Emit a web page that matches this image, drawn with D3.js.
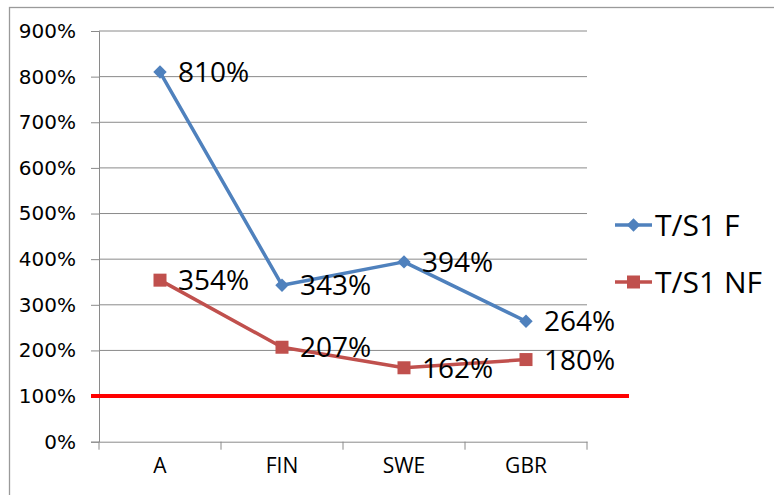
<!DOCTYPE html>
<html><head><meta charset="utf-8">
<script src="https://cdn.jsdelivr.net/npm/d3@7"></script>
<style>
html,body{margin:0;padding:0;background:#fff;}
svg{display:block;font-family:"Open Sans",sans-serif;}
</style></head>
<body>
<script>
const categories = ["A", "FIN", "SWE", "GBR"];
const seriesNames = ["T/S1 F", "T/S1 NF"];
const seriesF = [810, 343, 394, 264];
const seriesNF = [354, 207, 162, 180];
const yTicks = [0, 100, 200, 300, 400, 500, 600, 700, 800, 900];
const thresholdValue = 100;
const colors = ["#4F81BD", "#C0504D"];

const W = 774, H = 495;
const svg = d3.select("body").append("svg").attr("width", W).attr("height", H);

// outer border
svg.append("rect").attr("x", 9.5).attr("y", 7.5).attr("width", 800).attr("height", 600)
  .attr("fill", "none").attr("stroke", "#9a9a9a").attr("stroke-width", 1.3);

const plot = {left: 99, right: 587, top: 31, bottom: 441.7};
const x = d3.scaleBand().domain(categories).range([plot.left, plot.right]);
const y = d3.scaleLinear().domain([0, 900]).range([plot.bottom, plot.top]);

// gridlines
svg.append("g").selectAll("line").data(yTicks.filter(d => d > 0)).join("line")
  .attr("x1", plot.left).attr("x2", plot.right)
  .attr("y1", d => y(d)).attr("y2", d => y(d))
  .attr("stroke", "#8a8a8a").attr("stroke-width", 1);

// y axis
const yAxis = svg.append("g").attr("transform", `translate(${plot.left},0)`)
  .call(d3.axisLeft(y).tickValues(yTicks).tickSize(8).tickPadding(15).tickFormat(d => d + "%"));
yAxis.attr("font-size", null).attr("font-family", null);
yAxis.select(".domain").attr("stroke", "#8a8a8a");
yAxis.selectAll(".tick line").attr("stroke", "#8a8a8a");
yAxis.selectAll(".tick text").style("font-size", "20px").style("font-family", "'DejaVu Sans'").attr("fill", "#000");

// x axis
const xAxis = svg.append("g").attr("transform", `translate(0,${plot.bottom})`)
  .call(d3.axisBottom(x).tickSize(0).tickPadding(16));
xAxis.attr("font-size", null).attr("font-family", null);
xAxis.select(".domain").attr("stroke", "#8a8a8a");
xAxis.selectAll(".tick text").style("font-size", "21px").style("font-family", "'Open Sans'").attr("fill", "#000");
// boundary ticks
const bounds = categories.map(c => x(c)).concat([x(categories[categories.length - 1]) + x.bandwidth()]);
svg.append("g").selectAll("line").data(bounds).join("line")
  .attr("x1", d => d).attr("x2", d => d)
  .attr("y1", plot.bottom).attr("y2", plot.bottom + 8)
  .attr("stroke", "#8a8a8a");

// threshold red line
svg.append("line").attr("x1", 91).attr("x2", 629)
  .attr("y1", y(thresholdValue)).attr("y2", y(thresholdValue))
  .attr("stroke", "#FF0000").attr("stroke-width", 4);

const cx = c => x(c) + x.bandwidth() / 2;
const line = d3.line().x((d, i) => cx(categories[i])).y(d => y(d));

const allSeries = [seriesF, seriesNF];

allSeries.forEach((vals, si) => {
  const g = svg.append("g");
  g.append("path").attr("d", line(vals)).attr("fill", "none")
    .attr("stroke", colors[si]).attr("stroke-width", 3.5).attr("stroke-linejoin", "round");
  if (si === 0) {
    g.selectAll("path.m").data(vals).join("path").attr("class", "m")
      .attr("d", d3.symbol().type(d3.symbolSquare).size(90)())
      .attr("transform", (d, i) => `translate(${cx(categories[i])},${y(d)}) rotate(45)`)
      .attr("fill", colors[si]);
  } else {
    g.selectAll("rect.m").data(vals).join("rect").attr("class", "m")
      .attr("x", (d, i) => cx(categories[i]) - 6.5).attr("y", d => y(d) - 6.5)
      .attr("width", 13).attr("height", 13).attr("fill", colors[si]);
  }
  g.selectAll("text").data(vals).join("text")
    .attr("x", (d, i) => cx(categories[i]) + 18).attr("y", d => y(d))
    .attr("dy", "0.36em").style("font-size", "28px").attr("fill", "#000")
    .text(d => d + "%");
});

// legend
const legendY = [225, 282];
seriesNames.forEach((name, i) => {
  const g = svg.append("g");
  g.append("line").attr("x1", 615).attr("x2", 652).attr("y1", legendY[i]).attr("y2", legendY[i])
    .attr("stroke", colors[i]).attr("stroke-width", 3.5);
  if (i === 0) {
    g.append("path").attr("d", d3.symbol().type(d3.symbolSquare).size(90)())
      .attr("transform", `translate(633.5,${legendY[i]}) rotate(45)`).attr("fill", colors[i]);
  } else {
    g.append("rect").attr("x", 627).attr("y", legendY[i] - 6.5).attr("width", 13).attr("height", 13)
      .attr("fill", colors[i]);
  }
  g.append("text").attr("x", 655).attr("y", legendY[i]).attr("dy", "0.36em")
    .style("font-size", "30px").attr("fill", "#000").text(name);
});
</script>
</body></html>
